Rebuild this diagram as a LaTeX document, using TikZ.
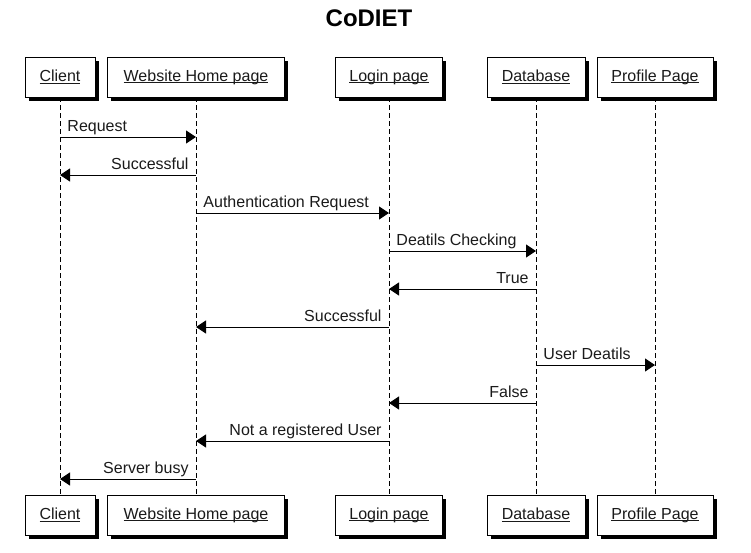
\documentclass[tikz,border=0pt]{standalone}
\usepackage{fontspec}
\setmainfont{Liberation Sans}
\usetikzlibrary{calc, shadows, arrows.meta}

% Underline that runs through the descenders
\newsavebox{\ulineBox}
\newcommand{\ulineLabel}[1]{\sbox{\ulineBox}{#1}\rlap{\rule[-1.8pt]{\wd\ulineBox}{0.8pt}}\usebox{\ulineBox}}

\begin{document}
\begin{tikzpicture}[x=1pt, y=-1pt,
    actor/.style={draw=borderColour, fill=white, line width=0.8pt, minimum height=40pt, inner sep=0pt,
        text=textColour, font=\fontsize{16}{19}\selectfont,
        drop shadow={shadow xshift=3.5pt, shadow yshift=-3.5pt, fill=black, opacity=1}},
    lifeline/.style={draw=borderColour, line width=0.8pt, dash pattern=on 5pt off 3pt},
    msg/.style={draw=borderColour, line width=0.9pt, -{Triangle[length=10pt, width=13pt]}},
    msgR/.style={anchor=base west, inner sep=0pt, xshift=7pt, yshift=6pt, text=textColour, font=\fontsize{16}{19}\selectfont},
    msgL/.style={anchor=base east, inner sep=0pt, xshift=-7pt, yshift=6pt, text=textColour, font=\fontsize{16}{19}\selectfont}]
    % Define colors
    \definecolor{borderColour}{HTML}{000000}
    \definecolor{textColour}{HTML}{1A1A1A}

    % Define row heights
    \def\topRow{77}
    \def\bottomRow{515}

    \useasboundingbox (0,0) rectangle (751,552);

    % Draw title
    \node[font=\bfseries\fontsize{24}{28}\selectfont] (title) at (369,18) {CoDIET};

    % Draw participant boxes and lifelines
    \foreach \name/\x/\w/\label in {client/60/70/Client, website/196/177/Website Home page,
        login/389/107/Login page, database/536/98/Database, profile/655/116/Profile Page} {
        \node[actor, minimum width=\w pt] (\name Top) at (\x,\topRow) {\ulineLabel{\label}};
        \node[actor, minimum width=\w pt] (\name Bottom) at (\x,\bottomRow) {\ulineLabel{\label}};
        \draw[lifeline] (\name Top) -- (\name Bottom);
    }

    % Draw messages, label next to the sender
    \foreach \src/\dst/\y/\side/\txt in {client/website/137/msgR/Request,
        website/client/175/msgL/Successful,
        website/login/213/msgR/Authentication Request,
        login/database/251/msgR/Deatils Checking,
        database/login/289/msgL/True,
        login/website/327/msgL/Successful,
        database/profile/365/msgR/User Deatils,
        database/login/403/msgL/False,
        login/website/441/msgL/Not a registered User,
        website/client/479/msgL/Server busy} {
        \draw[msg] (\src Top |- 0,\y) -- node[pos=0, \side] {\txt} (\dst Top |- 0,\y);
    }

\end{tikzpicture}
\end{document}
